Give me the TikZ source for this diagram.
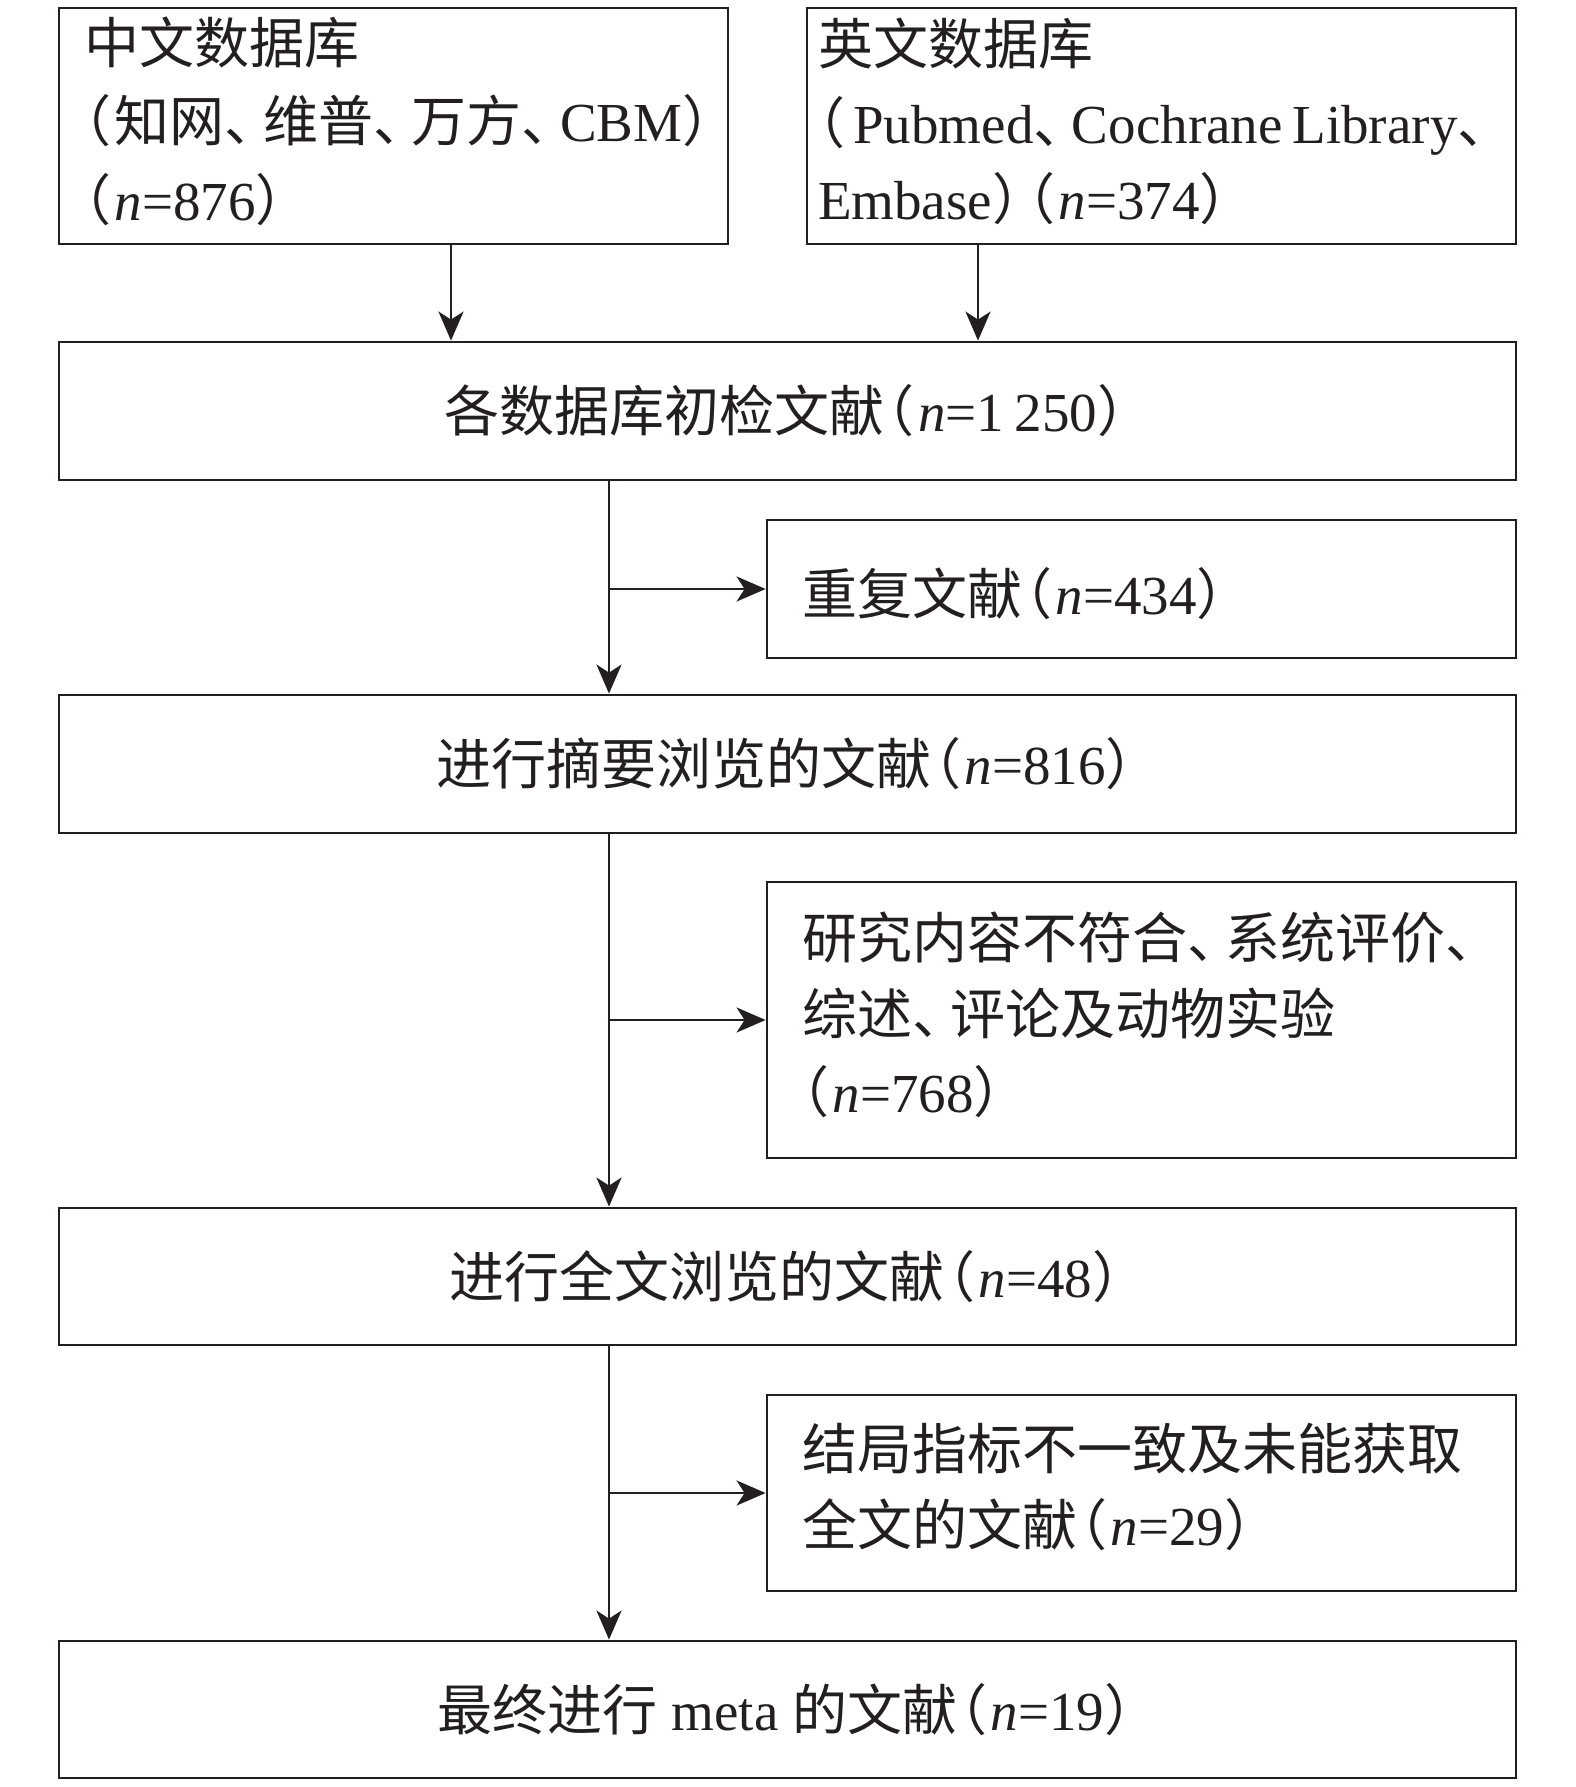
\documentclass[tikz,border=0pt]{standalone}
\usepackage{fontspec}
\setmainfont{Liberation Serif}
\newfontfamily\cjk[RawFeature=+halt]{Noto Sans CJK SC}
\usetikzlibrary{arrows.meta}
\newcommand{\cn}[1]{{\cjk #1}}
\newcommand{\lp}{\kern0.05em{\cjk （}\kern0.06em}
\newcommand{\rp}{{\cjk ）}\kern0.1em}
\newcommand{\dn}{{\cjk 、}\kern0.2em}
\newcommand{\hs}[1]{\rule{0pt}{#1}}
\newcommand{\ds}[1]{\rule[-#1]{0pt}{#1}}
\definecolor{ink}{RGB}{35,31,32}
\begin{document}
\begin{tikzpicture}[x=0.5pt,y=-0.5pt,
  box/.style={draw=ink, line width=1.4pt, inner ysep=0pt, text=ink,
    font=\fontsize{27.5pt}{38pt}\selectfont},
  wide/.style={box, minimum width=728.5pt, minimum height=69pt, align=center},
  rbox/.style={box, text width=339.5pt, inner xsep=17.5pt, align=left},
  conn/.style={draw=ink, line width=1.4pt, -{Stealth[length=14.5pt,width=12.5pt,inset=4pt]}}
]
\useasboundingbox (0,0) rectangle (1575,1787);

\node[box, text width=309.5pt, inner xsep=12.5pt, minimum height=118pt, align=left] (cn) at (393.5,126)
  {\hs{26pt}\cn{中文数据库}\\\lp\cn{知网}\dn\cn{维普}\dn\cn{万方}\dn CBM\rp\\\lp\textit{n}=876\rp\ds{10pt}};
\node[box, text width=343.5pt, inner xsep=5.5pt, minimum height=118pt, align=left] (en) at (1161.5,126)
  {\hs{26pt}\cn{英文数据库}\\\lp\kern0.08em Pubmed\dn Cochrane\kern0.18em Library\dn\\Embase\rp\lp\textit{n}=374\rp\ds{10pt}};
\node[wide] (all) at (787.5,411) {\cn{各数据库初检文献}\lp\textit{n}=1\kern0.2em 250\rp};
\node[rbox, minimum height=69pt] (dup) at (1141.5,589)
  {\hs{34pt}\cn{重复文献}\lp\textit{n}=434\rp\ds{9pt}};
\node[wide] (abs) at (787.5,764) {\cn{进行摘要浏览的文献}\lp\textit{n}=816\rp};
\node[rbox, minimum height=138pt] (ex1) at (1141.5,1020)
  {\hs{26pt}\cn{研究内容不符合}\dn\cn{系统评价}\dn\\\cn{综述}\dn\cn{评论及动物实验}\\\lp\textit{n}=768\rp\ds{10.5pt}};
\node[wide, minimum height=68.5pt] (full) at (787.5,1276.5) {\cn{进行全文浏览的文献}\lp\textit{n}=48\rp};
\node[rbox, minimum height=98pt] (ex2) at (1141.5,1493)
  {\hs{26pt}\cn{结局指标不一致及未能获取}\\\cn{全文的文献}\lp\textit{n}=29\rp\ds{12pt}};
\node[wide, minimum height=68.5pt] (fin) at (787.5,1709.5) {\cn{最终进行} meta \cn{的文献}\lp\textit{n}=19\rp};

\coordinate (a1) at (451,0);
\coordinate (a2) at (978,0);
\coordinate (sp) at (609,0);

\draw[conn] (cn.south -| a1) -- (all.north -| a1);
\draw[conn] (en.south -| a2) -- (all.north -| a2);
\draw[conn] (all.south -| sp) -- (abs.north -| sp);
\draw[conn] (dup.west -| sp) -- (dup.west);
\draw[conn] (abs.south -| sp) -- (full.north -| sp);
\draw[conn] (ex1.west -| sp) -- (ex1.west);
\draw[conn] (full.south -| sp) -- (fin.north -| sp);
\draw[conn] (ex2.west -| sp) -- (ex2.west);
\end{tikzpicture}
\end{document}
